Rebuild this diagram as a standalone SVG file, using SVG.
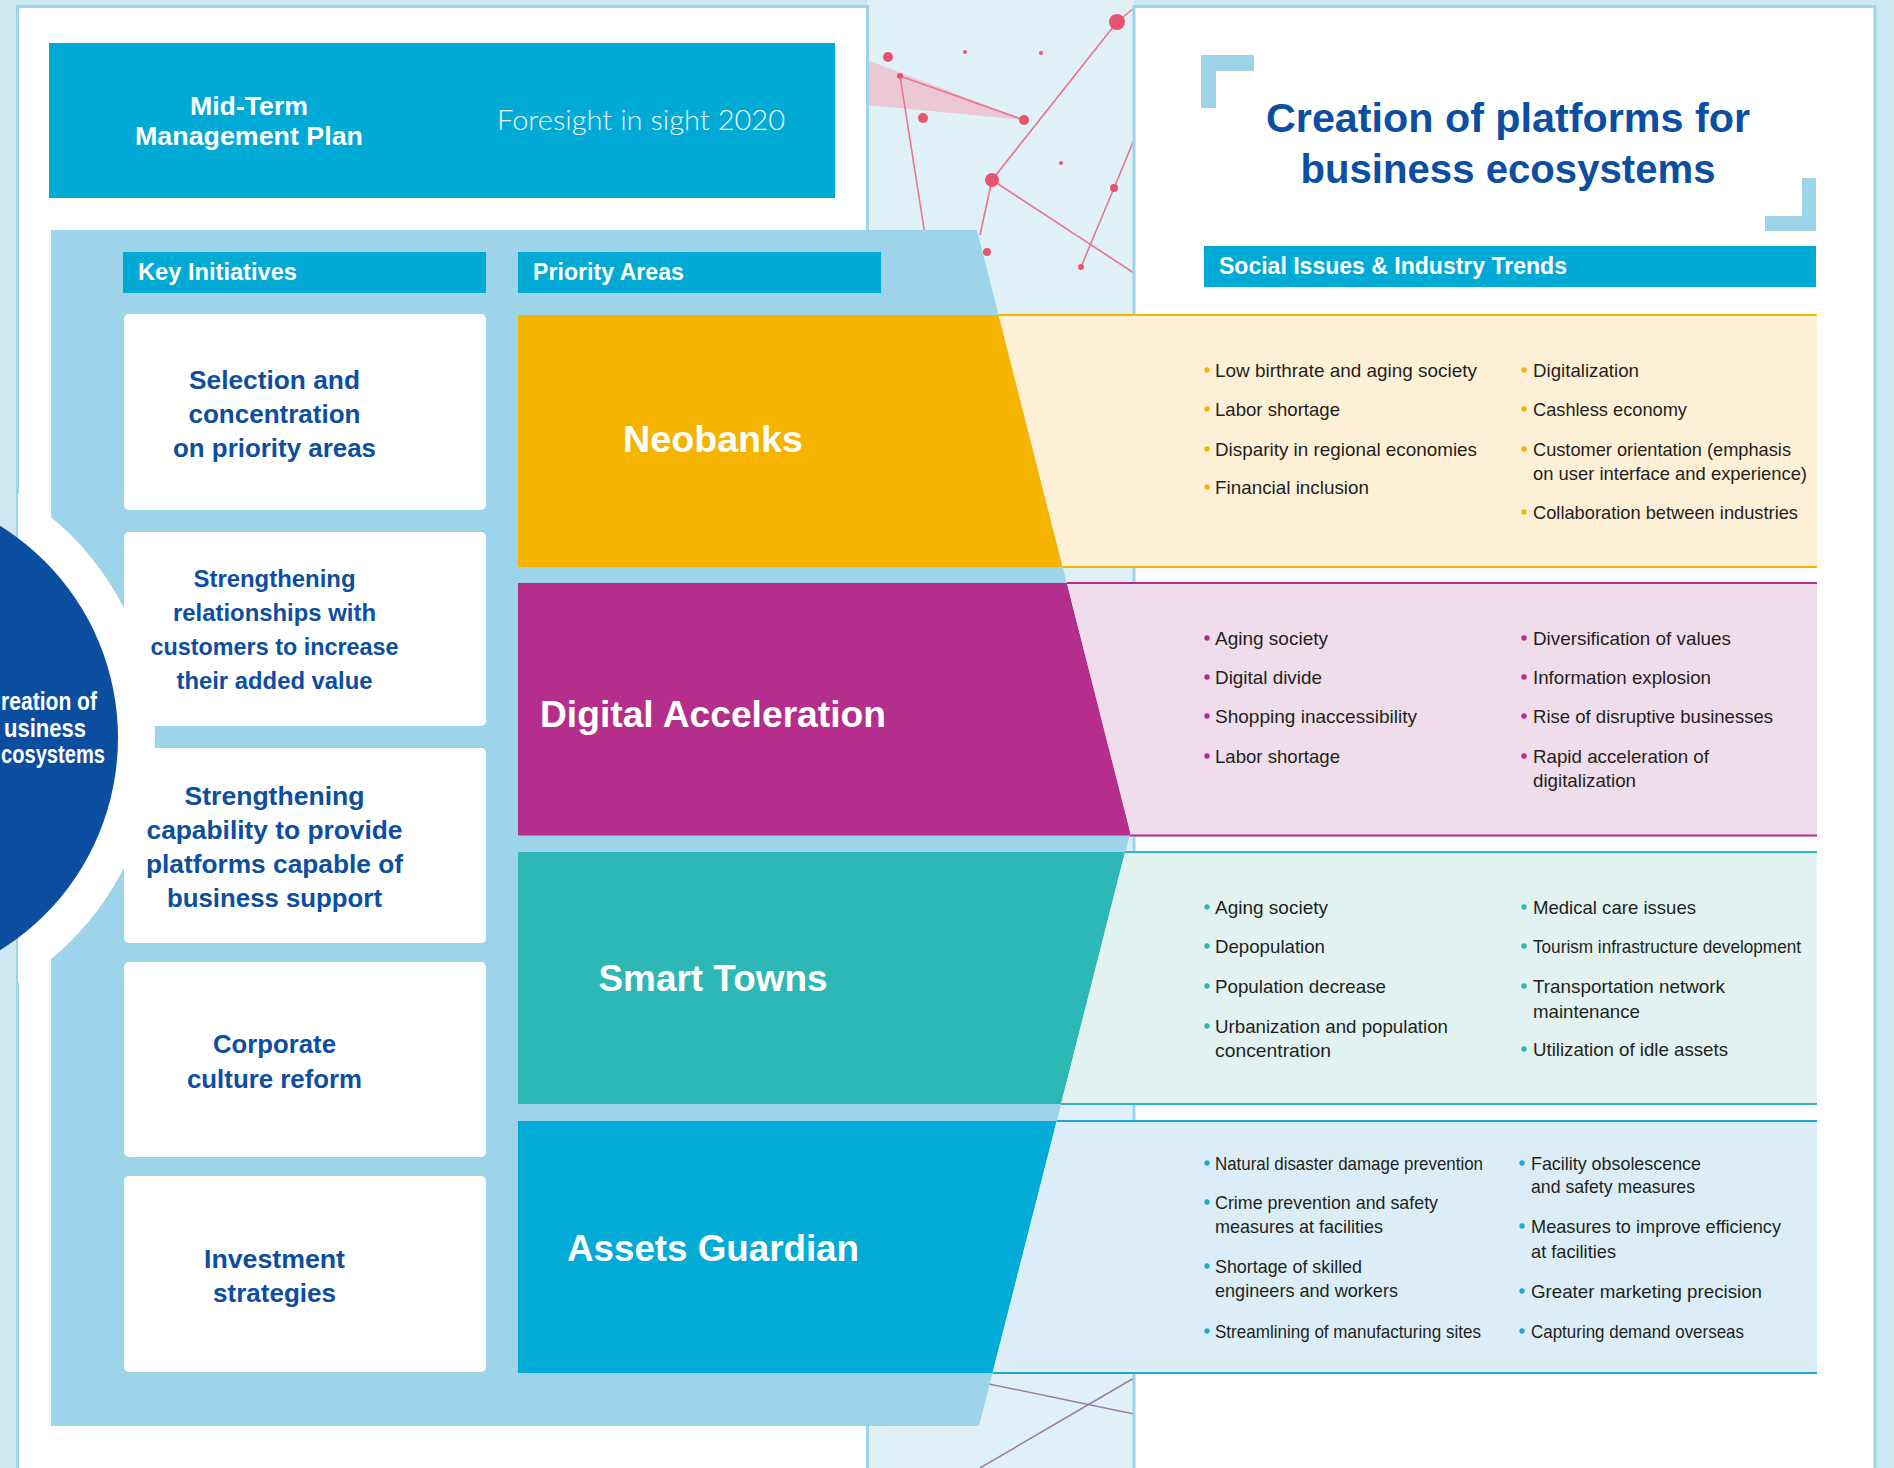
<svg xmlns="http://www.w3.org/2000/svg" width="1894" height="1468" viewBox="0 0 1894 1468">
<defs>
<style>
text{font-family:"Liberation Sans",Arial,sans-serif}
.hd{font-size:23px;font-weight:bold;fill:#fff}
.ki{font-weight:bold;fill:#0D4EA0;text-anchor:middle}
.pa{font-size:37px;font-weight:bold;fill:#fff;text-anchor:middle}
.tr{font-size:19px;fill:#231F20}
.net{stroke:#E8768C;stroke-width:1.6;fill:none}
.dot{fill:#E8546F}
.card{fill:#fff}
</style>
<clipPath id="pageClip"><rect x="18" y="0" width="849" height="1468"/></clipPath>
</defs>

<g id="background">
<rect width="1894" height="1468" fill="#CDE8F3"/>
<rect x="867" y="0" width="267" height="1468" fill="#E0F0F7"/>
<polygon points="867,60 1025,120 867,105" fill="#F2AEBB" opacity="0.6"/>
<line class="net" x1="1117" y1="22" x2="992" y2="180"/>
<line class="net" x1="900" y1="76" x2="1024" y2="120"/>
<line class="net" x1="900" y1="76" x2="925" y2="235"/>
<line class="net" x1="992" y1="180" x2="1134" y2="273"/>
<line class="net" x1="1114" y1="188" x2="1081" y2="267"/>
<line class="net" x1="1114" y1="188" x2="1134" y2="140"/>
<line class="net" x1="992" y1="180" x2="980" y2="235"/>
<line class="net" x1="1117" y1="22" x2="1134" y2="8"/>
<circle class="dot" cx="1117" cy="22" r="8"/>
<circle class="dot" cx="888" cy="57" r="5"/>
<circle class="dot" cx="900" cy="76" r="3"/>
<circle class="dot" cx="923" cy="118" r="5"/>
<circle class="dot" cx="1024" cy="120" r="5"/>
<circle class="dot" cx="992" cy="180" r="7"/>
<circle class="dot" cx="1114" cy="188" r="4"/>
<circle class="dot" cx="965" cy="52" r="2"/>
<circle class="dot" cx="1041" cy="53" r="2"/>
<circle class="dot" cx="1061" cy="163" r="2"/>
<circle class="dot" cx="987" cy="252" r="4"/>
<circle class="dot" cx="1081" cy="267" r="3"/>
<line x1="989" y1="1384" x2="1134" y2="1414" stroke="#9C7BA6" stroke-width="1.5"/>
<line x1="1134" y1="1378" x2="980" y2="1468" stroke="#9C7BA6" stroke-width="1.5"/>
<rect x="17.5" y="6.5" width="850" height="1470" fill="#fff" stroke="#9DD4EA" stroke-width="3"/>
<rect x="1134" y="6.5" width="741" height="1470" fill="#fff" stroke="#9DD4EA" stroke-width="3"/>
</g>

<g id="header">
<rect x="49" y="43" width="786" height="155" fill="#00AAD5"/>
<text x="249" y="115" font-size="26" font-weight="bold" fill="#fff" text-anchor="middle" textLength="118" lengthAdjust="spacingAndGlyphs">Mid-Term</text>
<text x="249" y="145" font-size="26" font-weight="bold" fill="#fff" text-anchor="middle" textLength="228" lengthAdjust="spacingAndGlyphs">Management Plan</text>
<text x="497" y="130" font-size="27" fill="#EEF8FC" style="font-family:Lato,'Liberation Sans',sans-serif;font-weight:300" textLength="288" lengthAdjust="spacingAndGlyphs">Foresight in sight  2020</text>
</g>

<g id="panel">
<polygon points="51,230 977,230 1130.4,833 979,1426 51,1426" fill="#9DD4EA"/>
<circle cx="-132" cy="738" r="287" fill="#fff" clip-path="url(#pageClip)"/>
</g>

<g id="circle-node">
<circle cx="-132" cy="738" r="250" fill="#0B4EA0"/>
<g font-size="25" font-weight="bold" fill="#fff">
<text x="1" y="710" textLength="96" lengthAdjust="spacingAndGlyphs">reation of</text>
<text x="4" y="737" textLength="82" lengthAdjust="spacingAndGlyphs">usiness</text>
<text x="1" y="763" textLength="104" lengthAdjust="spacingAndGlyphs">cosystems</text>
</g>
</g>

<g id="key-initiatives-header">
<rect x="123" y="252" width="363" height="41" fill="#00AAD5"/>
<text class="hd" x="138" y="280" textLength="159" lengthAdjust="spacingAndGlyphs">Key Initiatives</text>
</g>
<g id="priority-areas-header">
<rect x="518" y="252" width="363" height="41" fill="#00AAD5"/>
<text class="hd" x="533" y="280" textLength="151" lengthAdjust="spacingAndGlyphs">Priority Areas</text>
</g>

<g id="ki1">
<rect class="card" x="124" y="314" width="362" height="196" rx="5"/>
<text class="ki" font-size="26" x="274.5" y="389" textLength="171" lengthAdjust="spacingAndGlyphs">Selection and</text>
<text class="ki" font-size="26" x="274.5" y="423" textLength="172" lengthAdjust="spacingAndGlyphs">concentration</text>
<text class="ki" font-size="26" x="274.5" y="457" textLength="203" lengthAdjust="spacingAndGlyphs">on priority areas</text>
</g>
<g id="ki2">
<rect class="card" x="124" y="532" width="362" height="194" rx="5"/>
<text class="ki" font-size="24" x="274.5" y="587" textLength="162" lengthAdjust="spacingAndGlyphs">Strengthening</text>
<text class="ki" font-size="24" x="274.5" y="621" textLength="203" lengthAdjust="spacingAndGlyphs">relationships with</text>
<text class="ki" font-size="24" x="274.5" y="655" textLength="248" lengthAdjust="spacingAndGlyphs">customers to increase</text>
<text class="ki" font-size="24" x="274.5" y="689" textLength="196" lengthAdjust="spacingAndGlyphs">their added value</text>
</g>
<g id="ki3">
<rect class="card" x="124" y="748" width="362" height="195" rx="5"/>
<text class="ki" font-size="26" x="274.5" y="805" textLength="180" lengthAdjust="spacingAndGlyphs">Strengthening</text>
<text class="ki" font-size="26" x="274.5" y="839" textLength="256" lengthAdjust="spacingAndGlyphs">capability to provide</text>
<text class="ki" font-size="26" x="274.5" y="873" textLength="257" lengthAdjust="spacingAndGlyphs">platforms capable of</text>
<text class="ki" font-size="26" x="274.5" y="907" textLength="215" lengthAdjust="spacingAndGlyphs">business support</text>
</g>
<g id="ki4">
<rect class="card" x="124" y="962" width="362" height="195" rx="5"/>
<text class="ki" font-size="26" x="274.5" y="1053" textLength="123" lengthAdjust="spacingAndGlyphs">Corporate</text>
<text class="ki" font-size="26" x="274.5" y="1088" textLength="175" lengthAdjust="spacingAndGlyphs">culture reform</text>
</g>
<g id="ki5">
<rect class="card" x="124" y="1176" width="362" height="196" rx="5"/>
<text class="ki" font-size="26" x="274.5" y="1268" textLength="141" lengthAdjust="spacingAndGlyphs">Investment</text>
<text class="ki" font-size="26" x="274.5" y="1302" textLength="123" lengthAdjust="spacingAndGlyphs">strategies</text>
</g>

<g id="title">
<path d="M1201,108 V55 H1254 V71 H1216 V108 Z" fill="#9DD4EA"/>
<path d="M1816,178 V231 H1765 V216 H1802 V178 Z" fill="#9DD4EA"/>
<text x="1508" y="132" font-size="41" font-weight="bold" fill="#0B4EA2" text-anchor="middle" textLength="484" lengthAdjust="spacingAndGlyphs">Creation of platforms for</text>
<text x="1508" y="183" font-size="41" font-weight="bold" fill="#0B4EA2" text-anchor="middle" textLength="415" lengthAdjust="spacingAndGlyphs">business ecosystems</text>
</g>

<g id="social-header">
<rect x="1204" y="246" width="612" height="41" fill="#00AAD5"/>
<text class="hd" x="1219" y="274" textLength="348" lengthAdjust="spacingAndGlyphs">Social Issues &amp; Industry Trends</text>
</g>

<g id="connectors"></g>

<g id="neobanks">
<polygon points="518,315 998.6,315 1062.7,567 518,567" fill="#F5B400"/>
<text class="pa" x="713" y="452" textLength="180" lengthAdjust="spacingAndGlyphs">Neobanks</text>
</g>
<g id="neobanks-trends">
<polygon points="998.6,315 1817,315 1817,567 1062.7,567" fill="#FEF0D6"/>
<line x1="998.6" y1="315" x2="1817" y2="315" stroke="#F5B400" stroke-width="2"/>
<line x1="1062.7" y1="567" x2="1817" y2="567" stroke="#F5B400" stroke-width="2"/>
<g fill="#F5B400">
<circle cx="1207" cy="370" r="2.7"/><circle cx="1207" cy="409" r="2.7"/><circle cx="1207" cy="449" r="2.7"/><circle cx="1207" cy="487" r="2.7"/>
<circle cx="1524" cy="370" r="2.7"/><circle cx="1524" cy="409" r="2.7"/><circle cx="1524" cy="449" r="2.7"/><circle cx="1524" cy="512" r="2.7"/>
</g>
<text class="tr" x="1215" y="377" textLength="262" lengthAdjust="spacingAndGlyphs">Low birthrate and aging society</text>
<text class="tr" x="1215" y="416" textLength="125" lengthAdjust="spacingAndGlyphs">Labor shortage</text>
<text class="tr" x="1215" y="456" textLength="262" lengthAdjust="spacingAndGlyphs">Disparity in regional economies</text>
<text class="tr" x="1215" y="494" textLength="154" lengthAdjust="spacingAndGlyphs">Financial inclusion</text>
<text class="tr" x="1533" y="377" textLength="106" lengthAdjust="spacingAndGlyphs">Digitalization</text>
<text class="tr" x="1533" y="416" textLength="154" lengthAdjust="spacingAndGlyphs">Cashless economy</text>
<text class="tr" x="1533" y="456" textLength="258" lengthAdjust="spacingAndGlyphs">Customer orientation (emphasis</text>
<text class="tr" x="1533" y="480" textLength="274" lengthAdjust="spacingAndGlyphs">on user interface and experience)</text>
<text class="tr" x="1533" y="519" textLength="265" lengthAdjust="spacingAndGlyphs">Collaboration between industries</text>
</g>

<g id="digital-acceleration">
<polygon points="518,583 1066.8,583 1130.4,833 1129.3,835.5 518,835.5" fill="#B52E8B"/>
<text class="pa" x="713" y="727" textLength="346" lengthAdjust="spacingAndGlyphs">Digital Acceleration</text>
</g>
<g id="digital-acceleration-trends">
<polygon points="1066.8,583 1817,583 1817,835.5 1129.3,835.5 1130.4,833" fill="#F0DDEB"/>
<line x1="1066.8" y1="583" x2="1817" y2="583" stroke="#B52E8B" stroke-width="2"/>
<line x1="1129.3" y1="835.5" x2="1817" y2="835.5" stroke="#B52E8B" stroke-width="2"/>
<g fill="#B52E8B">
<circle cx="1207" cy="638" r="2.7"/><circle cx="1207" cy="677" r="2.7"/><circle cx="1207" cy="716" r="2.7"/><circle cx="1207" cy="756" r="2.7"/>
<circle cx="1524" cy="638" r="2.7"/><circle cx="1524" cy="677" r="2.7"/><circle cx="1524" cy="716" r="2.7"/><circle cx="1524" cy="756" r="2.7"/>
</g>
<text class="tr" x="1215" y="645" textLength="113" lengthAdjust="spacingAndGlyphs">Aging society</text>
<text class="tr" x="1215" y="684" textLength="107" lengthAdjust="spacingAndGlyphs">Digital divide</text>
<text class="tr" x="1215" y="723" textLength="202" lengthAdjust="spacingAndGlyphs">Shopping inaccessibility</text>
<text class="tr" x="1215" y="763" textLength="125" lengthAdjust="spacingAndGlyphs">Labor shortage</text>
<text class="tr" x="1533" y="645" textLength="198" lengthAdjust="spacingAndGlyphs">Diversification of values</text>
<text class="tr" x="1533" y="684" textLength="178" lengthAdjust="spacingAndGlyphs">Information explosion</text>
<text class="tr" x="1533" y="723" textLength="240" lengthAdjust="spacingAndGlyphs">Rise of disruptive businesses</text>
<text class="tr" x="1533" y="763" textLength="176" lengthAdjust="spacingAndGlyphs">Rapid acceleration of</text>
<text class="tr" x="1533" y="787" textLength="103" lengthAdjust="spacingAndGlyphs">digitalization</text>
</g>

<g id="smart-towns">
<polygon points="518,852 1125,852 1061,1104 518,1104" fill="#2DB8B5"/>
<text class="pa" x="713" y="991" textLength="229" lengthAdjust="spacingAndGlyphs">Smart Towns</text>
</g>
<g id="smart-towns-trends">
<polygon points="1125,852 1817,852 1817,1104 1061,1104" fill="#E1F2F0"/>
<line x1="1125" y1="852" x2="1817" y2="852" stroke="#2DB8B5" stroke-width="2"/>
<line x1="1061" y1="1104" x2="1817" y2="1104" stroke="#2DB8B5" stroke-width="2"/>
<g fill="#2DB8B5">
<circle cx="1207" cy="907" r="2.7"/><circle cx="1207" cy="946" r="2.7"/><circle cx="1207" cy="986" r="2.7"/><circle cx="1207" cy="1026" r="2.7"/>
<circle cx="1524" cy="907" r="2.7"/><circle cx="1524" cy="946" r="2.7"/><circle cx="1524" cy="986" r="2.7"/><circle cx="1524" cy="1049" r="2.7"/>
</g>
<text class="tr" x="1215" y="914" textLength="113" lengthAdjust="spacingAndGlyphs">Aging society</text>
<text class="tr" x="1215" y="953" textLength="110" lengthAdjust="spacingAndGlyphs">Depopulation</text>
<text class="tr" x="1215" y="993" textLength="171" lengthAdjust="spacingAndGlyphs">Population decrease</text>
<text class="tr" x="1215" y="1033" textLength="233" lengthAdjust="spacingAndGlyphs">Urbanization and population</text>
<text class="tr" x="1215" y="1057" textLength="116" lengthAdjust="spacingAndGlyphs">concentration</text>
<text class="tr" x="1533" y="914" textLength="163" lengthAdjust="spacingAndGlyphs">Medical care issues</text>
<text class="tr" x="1533" y="953" textLength="268" lengthAdjust="spacingAndGlyphs">Tourism infrastructure development</text>
<text class="tr" x="1533" y="993" textLength="192" lengthAdjust="spacingAndGlyphs">Transportation network</text>
<text class="tr" x="1533" y="1018" textLength="107" lengthAdjust="spacingAndGlyphs">maintenance</text>
<text class="tr" x="1533" y="1056" textLength="195" lengthAdjust="spacingAndGlyphs">Utilization of idle assets</text>
</g>

<g id="assets-guardian">
<polygon points="518,1121 1056.7,1121 992.5,1373 518,1373" fill="#02ABD6"/>
<text class="pa" x="713" y="1261" textLength="292" lengthAdjust="spacingAndGlyphs">Assets Guardian</text>
</g>
<g id="assets-guardian-trends">
<polygon points="1056.7,1121 1817,1121 1817,1373 992.5,1373" fill="#DBEEF7"/>
<line x1="1056.7" y1="1121" x2="1817" y2="1121" stroke="#1FA8D6" stroke-width="2"/>
<line x1="992.5" y1="1373" x2="1817" y2="1373" stroke="#1FA8D6" stroke-width="2"/>
<g fill="#1FA8D6">
<circle cx="1207" cy="1163" r="2.7"/><circle cx="1207" cy="1202" r="2.7"/><circle cx="1207" cy="1266" r="2.7"/><circle cx="1207" cy="1331" r="2.7"/>
<circle cx="1522" cy="1163" r="2.7"/><circle cx="1522" cy="1226" r="2.7"/><circle cx="1522" cy="1291" r="2.7"/><circle cx="1522" cy="1331" r="2.7"/>
</g>
<text class="tr" x="1215" y="1170" textLength="268" lengthAdjust="spacingAndGlyphs">Natural disaster damage prevention</text>
<text class="tr" x="1215" y="1209" textLength="223" lengthAdjust="spacingAndGlyphs">Crime prevention and safety</text>
<text class="tr" x="1215" y="1233" textLength="168" lengthAdjust="spacingAndGlyphs">measures at facilities</text>
<text class="tr" x="1215" y="1273" textLength="147" lengthAdjust="spacingAndGlyphs">Shortage of skilled</text>
<text class="tr" x="1215" y="1297" textLength="183" lengthAdjust="spacingAndGlyphs">engineers and workers</text>
<text class="tr" x="1215" y="1338" textLength="266" lengthAdjust="spacingAndGlyphs">Streamlining of manufacturing sites</text>
<text class="tr" x="1531" y="1170" textLength="170" lengthAdjust="spacingAndGlyphs">Facility obsolescence</text>
<text class="tr" x="1531" y="1193" textLength="164" lengthAdjust="spacingAndGlyphs">and safety measures</text>
<text class="tr" x="1531" y="1233" textLength="250" lengthAdjust="spacingAndGlyphs">Measures to improve efficiency</text>
<text class="tr" x="1531" y="1258" textLength="85" lengthAdjust="spacingAndGlyphs">at facilities</text>
<text class="tr" x="1531" y="1298" textLength="231" lengthAdjust="spacingAndGlyphs">Greater marketing precision</text>
<text class="tr" x="1531" y="1338" textLength="213" lengthAdjust="spacingAndGlyphs">Capturing demand overseas</text>
</g>
</svg>
